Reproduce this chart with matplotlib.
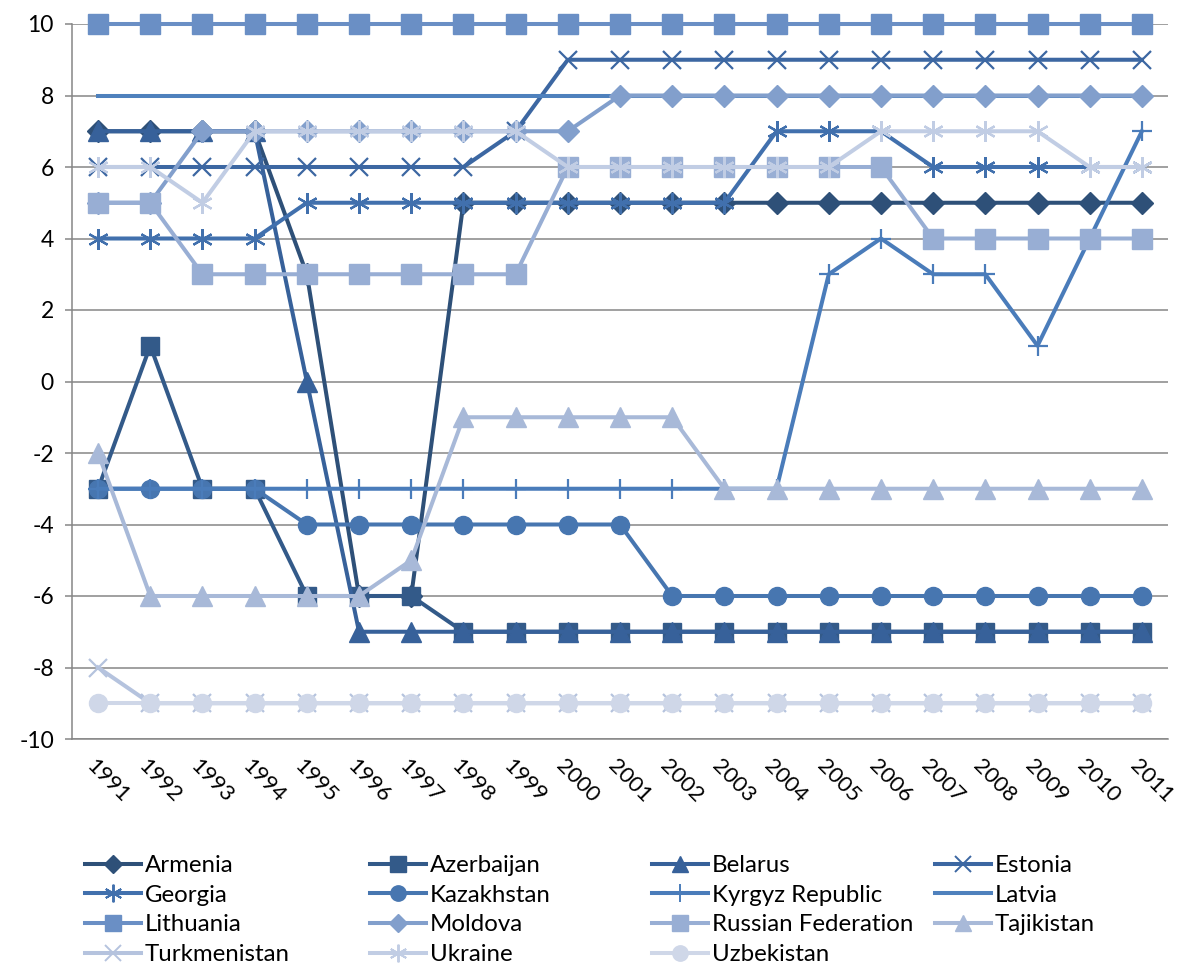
import matplotlib
matplotlib.use("Agg")
import matplotlib.pyplot as plt
from matplotlib.lines import Line2D
from matplotlib.transforms import ScaledTranslation
import numpy as np

plt.rcParams["axes.unicode_minus"] = False

years = [str(y) for y in range(1991, 2012)]

armenia = [7, 7, 7, 7, 3, -6, -6, 5, 5, 5, 5, 5, 5, 5, 5, 5, 5, 5, 5, 5, 5]
azerbaijan = [-3, 1, -3, -3, -6, -6, -6, -7, -7, -7, -7, -7, -7, -7, -7, -7, -7, -7, -7, -7, -7]
belarus = [7, 7, 7, 7, 0, -7, -7, -7, -7, -7, -7, -7, -7, -7, -7, -7, -7, -7, -7, -7, -7]
estonia = [6, 6, 6, 6, 6, 6, 6, 6, 7, 9, 9, 9, 9, 9, 9, 9, 9, 9, 9, 9, 9]
georgia = [4, 4, 4, 4, 5, 5, 5, 5, 5, 5, 5, 5, 5, 7, 7, 7, 6, 6, 6, 6, 6]
kazakhstan = [-3, -3, -3, -3, -4, -4, -4, -4, -4, -4, -4, -6, -6, -6, -6, -6, -6, -6, -6, -6, -6]
kyrgyz = [-3, -3, -3, -3, -3, -3, -3, -3, -3, -3, -3, -3, -3, -3, 3, 4, 3, 3, 1, 4, 7]
latvia = [8] * 21
lithuania = [10] * 21
moldova = [5, 5, 7, 7, 7, 7, 7, 7, 7, 7, 8, 8, 8, 8, 8, 8, 8, 8, 8, 8, 8]
russia = [5, 5, 3, 3, 3, 3, 3, 3, 3, 6, 6, 6, 6, 6, 6, 6, 4, 4, 4, 4, 4]
tajikistan = [-2, -6, -6, -6, -6, -6, -5, -1, -1, -1, -1, -1, -3, -3, -3, -3, -3, -3, -3, -3, -3]
turkmenistan = [-8] + [-9] * 20
ukraine = [6, 6, 5, 7, 7, 7, 7, 7, 7, 6, 6, 6, 6, 6, 6, 7, 7, 7, 7, 6, 6]
uzbekistan = [-9] * 21

names = ["Armenia", "Azerbaijan", "Belarus", "Estonia", "Georgia", "Kazakhstan",
         "Kyrgyz Republic", "Latvia", "Lithuania", "Moldova", "Russian Federation",
         "Tajikistan", "Turkmenistan", "Ukraine", "Uzbekistan"]
series = [armenia, azerbaijan, belarus, estonia, georgia, kazakhstan, kyrgyz,
          latvia, lithuania, moldova, russia, tajikistan, turkmenistan, ukraine, uzbekistan]

colors = ["#2E5078", "#335A89", "#37619A", "#3C67A2", "#4170AD", "#4776B0",
          "#4A7CBA", "#4F81BD", "#6A8FC5", "#829FCC", "#98AED4", "#A8B9D8",
          "#B5C3DE", "#C1CDE4", "#CFD7E8"]
markers = ["D", "s", "^", "x", (6, 2, 0), "o", "+", None, "s", "D", "s", "^", "x", (6, 2, 0), "o"]
msizes = [11, 13, 14, 13, 15, 13, 15, 0, 14, 11, 14, 14, 13, 15, 13]

W, H = 1184, 969
fig = plt.figure(figsize=(W / 100, H / 100), dpi=100)
ax = fig.add_axes([72 / W, 1 - 739 / H, (1168 - 72) / W, (739 - 24) / H])

x = np.arange(len(years))
for i, (nm, s) in enumerate(zip(names, series)):
    mk = markers[i]
    mew = 1.6 if mk in ("x", "+") or isinstance(mk, tuple) else 1.0
    ax.plot(x, s, color=colors[i], lw=2.9, marker=mk, ms=msizes[i],
            mec=colors[i], mfc=colors[i], mew=mew, zorder=3 + i,
            clip_on=False, solid_joinstyle="round")

ax.set_xlim(-0.5, len(years) - 0.5)
ax.set_ylim(-10, 10)
ax.set_yticks(range(-10, 11, 2))
ax.yaxis.grid(True, color="#868686", lw=1.1)
ax.set_axisbelow(True)
for sp in ["top", "right"]:
    ax.spines[sp].set_visible(False)
ax.spines["left"].set_color("#868686")
ax.spines["bottom"].set_color("#868686")
ax.spines["left"].set_linewidth(1.1)
ax.spines["bottom"].set_linewidth(1.1)
ax.tick_params(axis="y", direction="out", length=5, color="#868686", width=1.1,
               labelsize=16.5, pad=8)
ax.tick_params(axis="x", length=0, labelsize=16, pad=17)
ax.set_xticks(x)
ax.set_xticklabels(years, rotation=-45, ha="left", va="center", rotation_mode="anchor")
offset = ScaledTranslation(-9 / 100, 0, fig.dpi_scale_trans)
for t in ax.get_xticklabels():
    t.set_transform(t.get_transform() + offset)
for t in ax.get_xticklabels() + ax.get_yticklabels():
    t.set_fontfamily(["Lato", "DejaVu Sans"])

# legend: 4 columns laid out like the original
col_x = [85, 370, 652, 935]
row_top = 855
fs = 17.3
for c in range(4):
    idx = list(range(c, len(names), 4))
    hs = []
    for i in idx:
        hs.append(Line2D([0], [0], color=colors[i], lw=2.9, marker=markers[i],
                         ms=msizes[i] * 0.85, mec=colors[i], mfc=colors[i],
                         mew=1.4 if markers[i] in ("x", "+") or isinstance(markers[i], tuple) else 1.0))
    fig.legend(hs, [names[i] for i in idx], loc="upper left",
               bbox_to_anchor=(col_x[c] / W, 1 - row_top / H),
               bbox_transform=fig.transFigure, frameon=False,
               borderpad=0, borderaxespad=0, handlelength=2.35,
               handletextpad=0.13, labelspacing=0.36,
               prop={"family": ["Lato", "DejaVu Sans"], "size": fs})

fig.savefig("out.png", dpi=100)
